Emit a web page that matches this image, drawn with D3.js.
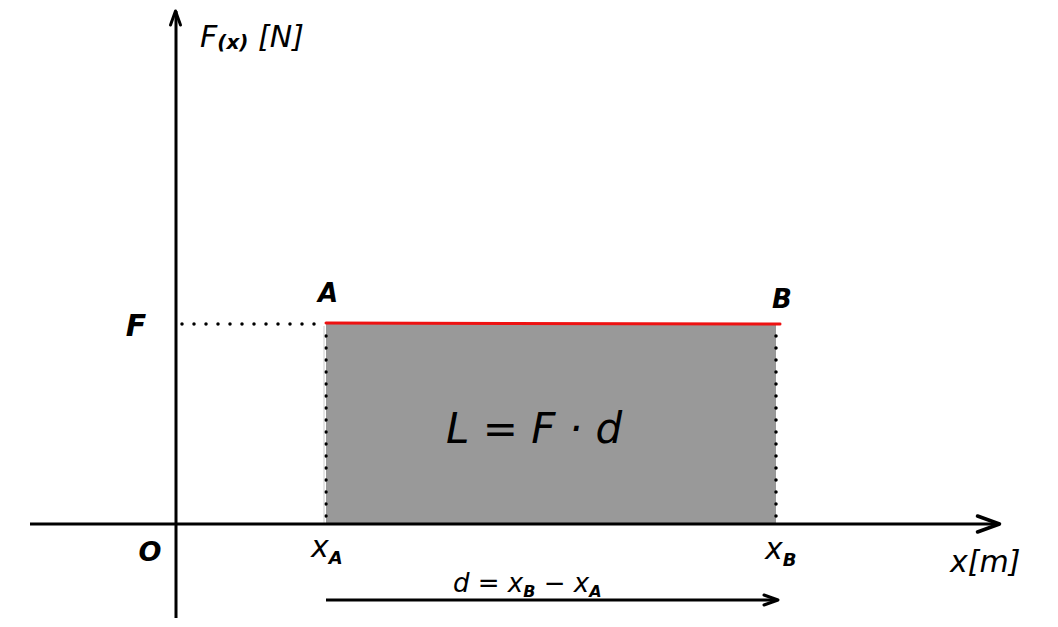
<!DOCTYPE html>
<html><head><meta charset="utf-8">
<script src="https://cdn.jsdelivr.net/npm/d3@7"></script>
<style>
html,body{margin:0;padding:0;background:#fff;}
svg{display:block;}
text{font-family:"DejaVu Sans",sans-serif;font-style:oblique;fill:#000;}
</style></head>
<body>
<script>
// data
const points = ["A", "B"];
const positions = [1, 4];          // xA, xB  (m, schematic units)
const forceValue = [2, 2];         // constant force F (N, schematic units)
const xDomain = [-1, 5.5];
const yDomain = [-1, 5.2];
const axisLabels = ["F(x) [N]", "x[m]"];

const W = 1058, H = 627;
const svg = d3.select("body").append("svg").attr("width", W).attr("height", H);

const x = d3.scaleLinear().domain(xDomain).range([26, 1001]);
const y = d3.scaleLinear().domain(yDomain).range([624, 4]);

const xA = positions[0], xB = positions[1], F = forceValue[0];

// filled area (work)
svg.append("path")
  .datum(positions.map((p, i) => [x(p), forceValue[i]]))
  .attr("d", d3.area().x(d => d[0]).y0(y(0)).y1(d => y(d[1])))
  .attr("fill", "#999999");

// dotted lines
const dot = (x1, y1, x2, y2) => svg.append("line")
  .attr("x1", x1).attr("y1", y1).attr("x2", x2).attr("y2", y2)
  .attr("stroke", "#000").attr("stroke-width", 3.5)
  .attr("stroke-dasharray", "0 12").attr("stroke-linecap", "round");
dot(x(0) + 6, y(F), x(xA), y(F));
dot(x(xA), y(F) + 12, x(xA), y(0) - 4);
dot(x(xB), y(F) + 12, x(xB), y(0) - 4);

svg.append("line").attr("x1", x(xA) - 2).attr("x2", x(xA) - 2)
  .attr("y1", y(F) + 2).attr("y2", y(0)).attr("stroke", "#ccc").attr("stroke-width", 1);

// red force line
svg.append("line")
  .attr("x1", x(xA)).attr("y1", y(F) - 1)
  .attr("x2", x(xB) + 4).attr("y2", y(F))
  .attr("stroke", "#ee1111").attr("stroke-width", 3).attr("stroke-linecap", "round");

// axes
svg.append("line").attr("x1", x(xDomain[0]) + 4).attr("x2", x(5.48))
  .attr("y1", y(0)).attr("y2", y(0)).attr("stroke", "#000").attr("stroke-width", 3);
svg.append("line").attr("x1", x(0)).attr("x2", x(0))
  .attr("y1", y(-0.94)).attr("y2", y(5.13)).attr("stroke", "#000").attr("stroke-width", 3);

function chevron(tx, ty, dir, len, half, sw) {
  let p;
  if (dir === "right") p = [[tx - len, ty - half], [tx, ty], [tx - len, ty + half]];
  else p = [[tx - half, ty + len], [tx, ty], [tx + half, ty + len]];
  svg.append("path").attr("d", d3.line()(p)).attr("fill", "none")
    .attr("stroke", "#000").attr("stroke-width", sw)
    .attr("stroke-linejoin", "round").attr("stroke-linecap", "round");
}
chevron(x(5.49), y(0), "right", 22, 8, 3.5);
chevron(x(0) - 0.5, y(5.13), "up", 14, 5, 3);

// d arrow
const yd = y(-0.76);
svg.append("line").attr("x1", x(xA)).attr("x2", x(xB) + 1)
  .attr("y1", yd).attr("y2", yd).attr("stroke", "#000").attr("stroke-width", 3);
chevron(x(xB) + 2, yd, "right", 14, 5, 3);

// labels
const txt = (s, tx, ty, size, anchor, bold) => svg.append("text")
  .attr("x", tx).attr("y", ty).attr("font-size", size)
  .attr("font-weight", bold ? "bold" : "normal")
  .attr("text-anchor", anchor || "start").text(s);

// F(x) [N]
const t1 = svg.append("text").attr("x", x(0) + 24).attr("y", 47).attr("font-size", 30);
t1.append("tspan").text("F");
t1.append("tspan").attr("font-size", 20).attr("dy", 2).attr("font-weight", "bold").text("(x)");
t1.append("tspan").attr("dy", -2).text(" [N]");

txt("F", x(0) - 40, y(F) + 12, 30, "middle", true);
txt(points[0], x(xA) + 2, y(F) - 22, 26, "middle", true);
txt(points[1], x(xB) + 6, y(F) - 16, 26, "middle", true);
txt("O", x(0) - 26, y(0) + 37, 27, "middle", true);

const lab = (tx, ty, sub) => {
  const t = svg.append("text").attr("x", tx).attr("y", ty).attr("font-size", 30);
  t.append("tspan").text("x");
  t.append("tspan").attr("font-size", 18).attr("dy", 7).attr("font-weight", "bold").text(sub);
};
lab(x(xA) - 15, y(0) + 33, points[0]);
lab(x(xB) - 11, y(0) + 35, points[1]);

svg.append("text").attr("x", 950).attr("y", y(0) + 48).attr("font-size", 30).text(axisLabels[1]);

txt("L = F · d", (x(xA) + x(xB)) / 2 - 17, 443, 42, "middle");

const td = svg.append("text").attr("x", 453).attr("y", yd - 8).attr("font-size", 26);
td.append("tspan").text("d = x");
td.append("tspan").attr("font-size", 16).attr("dy", 5).attr("font-weight", "bold").text("B");
td.append("tspan").attr("dy", -5).text(" − x");
td.append("tspan").attr("font-size", 16).attr("dy", 5).attr("font-weight", "bold").text("A");
</script>
</body></html>
